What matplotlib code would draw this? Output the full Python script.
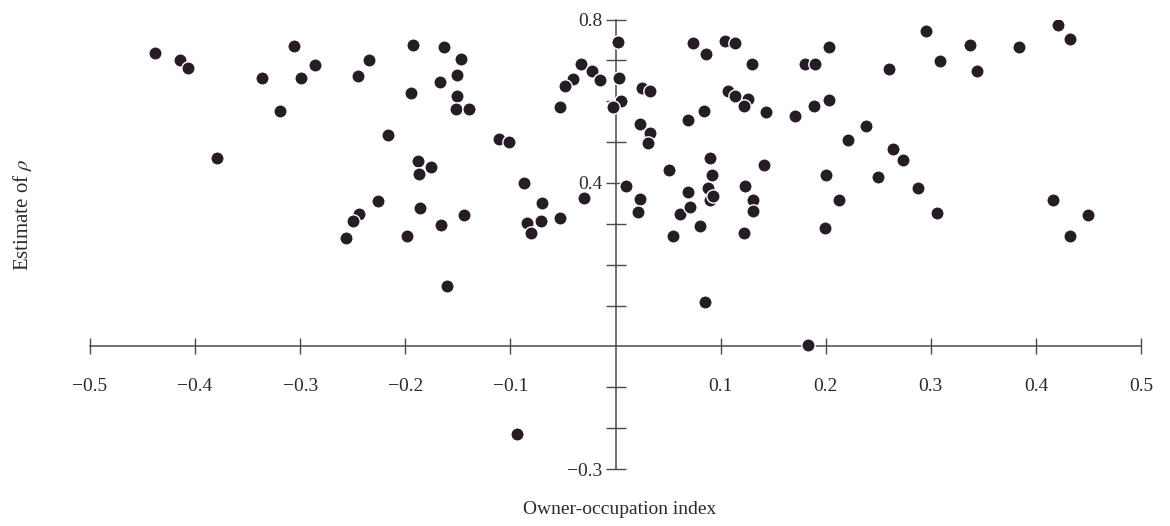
import numpy as np
import matplotlib
matplotlib.use("Agg")
import matplotlib.pyplot as plt
from matplotlib.ticker import FixedLocator, FixedFormatter

plt.rcParams["font.family"] = ["Liberation Serif", "DejaVu Serif"]
plt.rcParams["mathtext.fontset"] = "stix"

# --- data ---
owner_occ = [
    -0.438, -0.414, -0.407, -0.379, -0.336, -0.319, -0.306, -0.299, -0.286, -0.245,
    -0.235, -0.193, -0.163, -0.147, -0.151, -0.167, -0.195, -0.151, -0.152, -0.139,
    -0.216, -0.111, -0.101, -0.188, -0.176, -0.187, -0.087, -0.244, -0.250, -0.256,
    -0.226, -0.186, -0.198, -0.166, -0.144, -0.160, -0.070, -0.084, -0.071, -0.080,
    -0.053, -0.030, -0.094,
    -0.033, -0.022, -0.015, -0.040, -0.048, -0.053, 0.002, 0.003, 0.005, -0.002,
    0.025, 0.033, 0.023, 0.033, 0.031, 0.074, 0.086, 0.104, 0.114, 0.130,
    0.107, 0.114, 0.126, 0.122, 0.143, 0.171, 0.180, 0.190, 0.203, 0.189,
    0.203, 0.069, 0.084, 0.090, 0.051, 0.092, 0.141, 0.200, 0.221, 0.238,
    0.250, 0.295, 0.337, 0.384, 0.421, 0.432, 0.309, 0.260, 0.344, 0.264,
    0.274,
    0.010, 0.023, 0.021, 0.055, 0.061, 0.069, 0.071, 0.080, 0.085, 0.088,
    0.090, 0.093, 0.123, 0.122, 0.131, 0.131, 0.199, 0.213, 0.288, 0.306,
    0.416, 0.432, 0.450, 0.183,
]
rho_est = [
    0.717, 0.701, 0.681, 0.461, 0.658, 0.576, 0.736, 0.658, 0.689, 0.662,
    0.701, 0.738, 0.733, 0.703, 0.665, 0.646, 0.620, 0.614, 0.580, 0.580,
    0.518, 0.508, 0.499, 0.454, 0.440, 0.422, 0.400, 0.324, 0.308, 0.265,
    0.357, 0.338, 0.269, 0.298, 0.322, 0.147, 0.352, 0.302, 0.307, 0.277,
    0.314, 0.363, -0.214,
    0.690, 0.674, 0.652, 0.654, 0.637, 0.586, 0.744, 0.656, 0.601, 0.587,
    0.633, 0.624, 0.544, 0.523, 0.497, 0.743, 0.716, 0.747, 0.742, 0.691,
    0.625, 0.614, 0.605, 0.589, 0.574, 0.564, 0.691, 0.690, 0.733, 0.588,
    0.602, 0.554, 0.576, 0.460, 0.431, 0.420, 0.445, 0.420, 0.505, 0.540,
    0.414, 0.772, 0.738, 0.733, 0.787, 0.752, 0.699, 0.678, 0.673, 0.483,
    0.455,
    0.393, 0.361, 0.329, 0.271, 0.324, 0.378, 0.342, 0.295, 0.109, 0.388,
    0.359, 0.368, 0.393, 0.278, 0.359, 0.332, 0.290, 0.359, 0.388, 0.327,
    0.359, 0.271, 0.322, 0.004,
]

x_ticks = [-0.5, -0.4, -0.3, -0.2, -0.1, 0.1, 0.2, 0.3, 0.4, 0.5]
x_labels = ["\u22120.5", "\u22120.4", "\u22120.3", "\u22120.2", "\u22120.1",
            "0.1", "0.2", "0.3", "0.4", "0.5"]
y_ticks = [-0.3, -0.2, -0.1, 0.1, 0.2, 0.3, 0.4, 0.5, 0.6, 0.7, 0.8]
y_labels = ["\u22120.3", "", "", "", "", "", "0.4", "", "", "", "0.8"]

axis_col = "#4a4a4a"
text_col = "#2b2b2b"
dot_col = "#261c26"

fig = plt.figure(figsize=(11.7, 5.26), dpi=100)
W, H = 1170, 526
ax = fig.add_axes([90 / W, (H - 469) / H, (1141 - 90) / W, (469 - 19.5) / H])

ax.scatter(owner_occ, rho_est, s=92, color=dot_col, edgecolors="white",
           linewidths=1.0, zorder=3)

ax.set_xlim(-0.5, 0.5)
ax.set_ylim(-0.3, 0.8)

# axes crossing at the origin
for side in ["top", "right"]:
    ax.spines[side].set_visible(False)
ax.spines["left"].set_position(("data", 0))
ax.spines["bottom"].set_position(("data", 0))
for side in ["left", "bottom"]:
    ax.spines[side].set_color(axis_col)
    ax.spines[side].set_linewidth(1.1)

ax.xaxis.set_major_locator(FixedLocator(x_ticks))
ax.xaxis.set_major_formatter(FixedFormatter(x_labels))
ax.yaxis.set_major_locator(FixedLocator(y_ticks))
ax.yaxis.set_major_formatter(FixedFormatter(y_labels))

ax.tick_params(axis="x", direction="inout", length=12, width=1.0, color=axis_col,
               labelsize=14, labelcolor=text_col, pad=17)
ax.tick_params(axis="y", direction="inout", length=15, width=1.0, color=axis_col,
               labelsize=14, labelcolor=text_col, pad=2)

fig.text(620 / W, 1 - 510 / H, "Owner-occupation index", ha="center", va="center",
         fontsize=14, color=text_col)
fig.text(22 / W, 1 - 215 / H, r"Estimate of $\rho$", ha="center", va="center",
         rotation=90, fontsize=15, color=text_col)

fig.savefig("out.png", dpi=100, facecolor="white")
